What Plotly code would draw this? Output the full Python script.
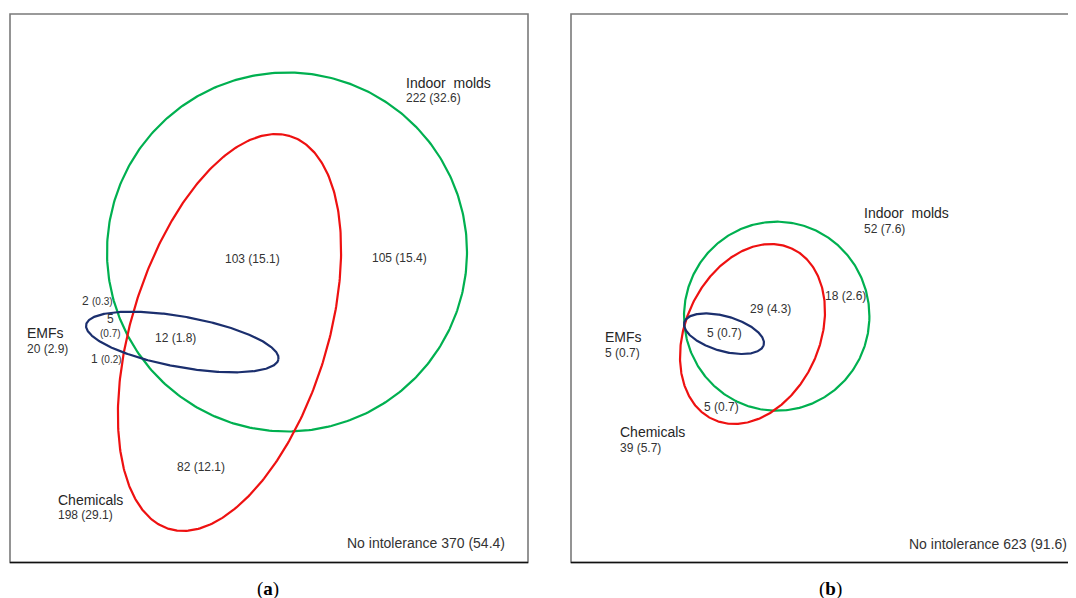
import numpy as np
import plotly.graph_objects as go

# ---------------- data ----------------
set_names = ["Indoor molds", "EMFs", "Chemicals"]
panel_labels = ["a", "b"]

# panel (a): totals per set (n, %)
a_totals_n = [222, 20, 198]
a_totals_pct = [32.6, 2.9, 29.1]
# panel (a): region counts
a_region_names = ["molds_only", "molds_chem", "chem_only", "all_three", "emf_only", "emf_molds", "emf_chem"]
a_region_n = [105, 103, 82, 12, 2, 5, 1]
a_region_pct = [15.4, 15.1, 12.1, 1.8, 0.3, 0.7, 0.2]
a_none_n, a_none_pct = 370, 54.4

# panel (b)
b_totals_n = [52, 5, 39]
b_totals_pct = [7.6, 0.7, 5.7]
b_region_names = ["molds_only", "molds_chem", "all_three", "chem_only"]
b_region_n = [18, 29, 5, 5]
b_region_pct = [2.6, 4.3, 0.7, 0.7]
b_none_n, b_none_pct = 623, 91.6

# ---------------- styling / geometry ----------------
W, H = 1076, 598
OFF = 8  # page body margin: axis units = page pixels
FONT = "Arial, 'Liberation Sans', sans-serif"
TXT = "#333333"
color_of = {"Indoor molds": "#00B050", "Chemicals": "#EE1111", "EMFs": "#1B2F6E"}

# ellipse geometry in page pixels: (cx, cy, semi-axis a, semi-axis b, angle deg)
geom_a = {
    "Indoor molds": (287, 252, 180, 179.5, 0),
    "Chemicals": (229.5, 332.5, 205.5, 98, 72.8),
    "EMFs": (182.3, 342, 97.7, 25.3, -10.2),
}
geom_b = {
    "Indoor molds": (776.7, 316.2, 92.7, 94.5, 0),
    "Chemicals": (752.5, 334, 94.1, 67.1, 65.4),
    "EMFs": (724, 333.7, 41.3, 17.5, -16),
}


def ellipse(cx, cy, a, b, ang):
    t = np.linspace(0, 2 * np.pi, 400)
    th = np.deg2rad(ang)
    x = cx + a * np.cos(t) * np.cos(th) - b * np.sin(t) * np.sin(th)
    yu = a * np.cos(t) * np.sin(th) + b * np.sin(t) * np.cos(th)
    return x, cy - yu


fig = go.Figure()
for geom in (geom_a, geom_b):
    for name in ["Indoor molds", "Chemicals", "EMFs"]:
        x, y = ellipse(*geom[name])
        fig.add_trace(go.Scatter(x=x, y=y, mode="lines",
                                 line=dict(color=color_of[name], width=2.2),
                                 hoverinfo="skip", showlegend=False))

ann = []


def lab(x, y, text, size=12, anchor="left", color=TXT, family=FONT):
    ann.append(dict(x=x, y=y, xref="x", yref="y", text=text, showarrow=False,
                    xanchor=anchor, yanchor="middle",
                    font=dict(size=size, color=color, family=family)))


def fmt(n, p):
    return f"{n} ({p})"


# panel a set labels
lab(404, 83, set_names[0].replace(" ", "&nbsp;&nbsp;"), 14, color="#262626")
lab(404, 98, fmt(a_totals_n[0], a_totals_pct[0]), 12)
lab(25, 333, set_names[1], 14, color="#262626")
lab(25, 349, fmt(a_totals_n[1], a_totals_pct[1]), 12)
lab(56, 500, set_names[2], 14, color="#262626")
lab(56, 515, fmt(a_totals_n[2], a_totals_pct[2]), 12)
# panel a regions
lab(399.5, 258, fmt(a_region_n[0], a_region_pct[0]), 12, "center")
lab(252.5, 259, fmt(a_region_n[1], a_region_pct[1]), 12, "center")
lab(201, 467, fmt(a_region_n[2], a_region_pct[2]), 12, "center")
lab(175, 338, fmt(a_region_n[3], a_region_pct[3]), 12, "center")
lab(80, 301, f"{a_region_n[4]} <span style='font-size:10px'>({a_region_pct[4]})</span>", 12)
lab(110, 319, f"{a_region_n[5]}", 12, "center")
lab(110, 333, f"({a_region_pct[5]})", 10, "center")
lab(89, 359, f"{a_region_n[6]} <span style='font-size:10px'>({a_region_pct[6]})</span>", 12)
lab(507, 543, f"No intolerance {a_none_n} ({a_none_pct})", 14, "right")

# panel b set labels
lab(862, 213, set_names[0].replace(" ", "&nbsp;&nbsp;"), 14, color="#262626")
lab(862, 229, fmt(b_totals_n[0], b_totals_pct[0]), 12)
lab(603, 337, set_names[1], 14, color="#262626")
lab(603, 353, fmt(b_totals_n[1], b_totals_pct[1]), 12)
lab(618, 432, set_names[2], 14, color="#262626")
lab(618, 448, fmt(b_totals_n[2], b_totals_pct[2]), 12)
# panel b regions
lab(845, 296, fmt(b_region_n[0], b_region_pct[0]), 12, "center")
lab(770, 309, fmt(b_region_n[1], b_region_pct[1]), 12, "center")
lab(724, 333, fmt(b_region_n[2], b_region_pct[2]), 12, "center")
lab(721.5, 407, fmt(b_region_n[3], b_region_pct[3]), 12, "center")
lab(1069, 544, f"No intolerance {b_none_n} ({b_none_pct})", 14, "right")

# panel captions
SERIF = "'Liberation Serif', 'Times New Roman', serif"
lab(267.5, 588.5, f"(<b>{panel_labels[0]}</b>)", 19, "center", "#000000", SERIF)
lab(830, 588.5, f"(<b>{panel_labels[1]}</b>)", 19, "center", "#000000", SERIF)

shapes = []
for (x0, x1) in [(10, 528), (571, 1090)]:
    shapes.append(dict(type="rect", xref="x", yref="y", x0=x0, x1=x1, y0=14, y1=562.5,
                       line=dict(color="#7a7a7a", width=1.6), layer="below"))
    shapes.append(dict(type="line", xref="x", yref="y", x0=x0, x1=x1, y0=562.5, y1=562.5,
                       line=dict(color="#111111", width=1.6)))

fig.update_layout(
    width=W, height=H,
    margin=dict(l=0, r=0, t=0, b=0),
    paper_bgcolor="white", plot_bgcolor="white",
    xaxis=dict(range=[OFF, W + OFF], visible=False, fixedrange=True),
    yaxis=dict(range=[H + OFF, OFF], visible=False, fixedrange=True),
    annotations=ann, shapes=shapes, showlegend=False,
)

fig.write_html("out.html")
